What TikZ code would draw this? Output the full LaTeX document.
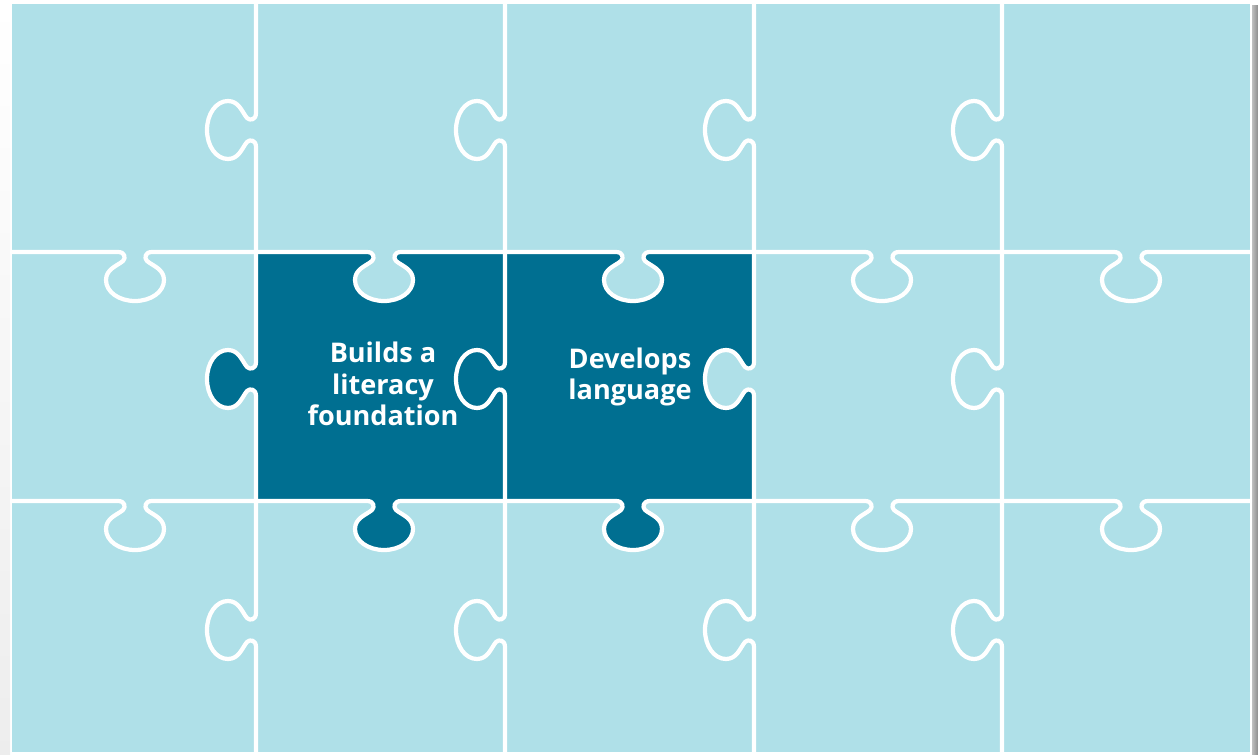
\documentclass[tikz,border=0pt]{standalone}
\usepackage{fontspec}
\setsansfont{Open Sans}
\usepackage{tikz}
\usetikzlibrary{positioning}

\definecolor{lightpiece}{HTML}{AFE0E8}
\definecolor{darkpiece}{HTML}{006F91}

\newcommand{\knobdown}[2]{-- (#1-17,#2) .. controls (#1-10,#2) and (#1-9,#2+6) .. (#1-12,#2+9) .. controls (#1-18,#2+14) and (#1-29,#2+17) .. (#1-29,#2+28) .. controls (#1-29,#2+40) and (#1-16,#2+49) .. (#1,#2+49) .. controls (#1+16,#2+49) and (#1+29,#2+40) .. (#1+29,#2+28) .. controls (#1+29,#2+17) and (#1+18,#2+14) .. (#1+12,#2+9) .. controls (#1+9,#2+6) and (#1+10,#2) .. (#1+17,#2)}
\newcommand{\knobleft}[2]{-- (#1,#2-17) .. controls (#1,#2-10) and (#1-6,#2-9) .. (#1-9,#2-12) .. controls (#1-14,#2-18) and (#1-17,#2-29) .. (#1-28,#2-29) .. controls (#1-40,#2-29) and (#1-49,#2-16) .. (#1-49,#2) .. controls (#1-49,#2+16) and (#1-40,#2+29) .. (#1-28,#2+29) .. controls (#1-17,#2+29) and (#1-14,#2+18) .. (#1-9,#2+12) .. controls (#1-6,#2+9) and (#1,#2+10) .. (#1,#2+17)}

\tikzset{
    seam/.style={white, line width=1.2pt, line join=round, line cap=round},
    piecetext/.style={white, font=\sffamily\bfseries\fontsize{7.7}{9}\selectfont, align=center, inner sep=0pt}
}

\begin{document}
\begin{tikzpicture}[x=0.01cm, y=-0.01cm]
    \useasboundingbox (0,0) rectangle (1258,755);
    \shade[top color=white, bottom color=black!7] (0,0) rectangle (10,755);
    \shade[left color=black!25, right color=black!45] (1252,6) rectangle (1258,755);
    \fill[lightpiece] (12,4) rectangle (1250,752);
    \begin{scope}
        \fill[darkpiece] (256,252) rectangle (754,501);
        \fill[darkpiece] (256,362) \knobleft{256}{379} -- cycle;
        \fill[darkpiece] (367,501) \knobdown{384}{501} -- cycle;
        \fill[darkpiece] (616,501) \knobdown{633}{501} -- cycle;
        \fill[lightpiece] (367,252) \knobdown{384}{252} -- cycle;
        \fill[lightpiece] (616,252) \knobdown{633}{252} -- cycle;
        \fill[lightpiece] (754,362) \knobleft{754}{379} -- cycle;
    \end{scope}
    \foreach \y in {252,501} {
        \draw[seam] (12,\y) \foreach \x in {135,384,633,882,1131} {\knobdown{\x}{\y}} -- (1250,\y);
    }
    \foreach \x in {256,505,754,1002} {
        \draw[seam] (\x,4) \foreach \y in {130,379,630} {\knobleft{\x}{\y}} -- (\x,752);
    }
    \node[piecetext] (builds) at (383,384) {Builds a\\literacy\\foundation};
    \node[piecetext] (develops) at (630,377) {Develops\\language};
\end{tikzpicture}
\end{document}
